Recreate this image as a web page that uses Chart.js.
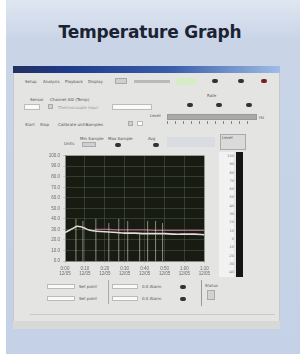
<!DOCTYPE html>
<html>
<head>
<meta charset="utf-8">
<script src="https://cdn.jsdelivr.net/npm/chart.js@4.4.0/dist/chart.umd.min.js"></script>
<style>
  html, body { margin: 0; padding: 0; }
  body { width: 300px; height: 354px; position: relative; overflow: hidden;
    background: #fff; font-family: "DejaVu Sans", sans-serif; }
  .abs { position: absolute; }
  #slide { left: 6px; top: 0; width: 294px; height: 354px;
    background: linear-gradient(180deg, #dfe6f1 0px, #c9d5e7 40px, #c4d1e6 354px); }
  #title { left: 0; top: 22px; width: 300px; text-align: center; font-weight: bold;
    font-size: 17px; color: #1b2232; letter-spacing: -0.2px; }
  #win { left: 13px; top: 66px; width: 267px; height: 263px; background: #e4e4e2;
    border: 1px solid #c8c8c8; box-sizing: border-box; filter: blur(0.45px); }
  #bar { left: 13px; top: 66px; width: 267px; height: 7px;
    background: linear-gradient(90deg, #24305e 0%, #1e3a8a 20%, #3b5ea8 60%, #9fbde6 100%); }
  .t { font-size: 4px; color: #555; white-space: nowrap; }
  .box { background: #fafafa; border: 1px solid #bbb; box-sizing: border-box; }
  .grey { background: #cfcfcf; border: 1px solid #aaa; box-sizing: border-box; }
  .knob { width: 6px; height: 4px; border-radius: 3px; background: #333; }
  #plot { left: 36px; top: 150px; width: 177px; height: 125px; }
  #meter { left: 236px; top: 152px; width: 7px; height: 125px; background: #151515; }
  #meterScale { left: 219px; top: 152px; width: 15px; height: 125px; background: #f2f2f2;
    font-size: 3.5px; color: #777; line-height: 8.3px; text-align: right; }
</style>
</head>
<body>
<div class="abs" id="slide"></div>
<div class="abs" id="title">Temperature Graph</div>

<div class="abs" id="win"></div>
<div class="abs" id="bar"></div>

<!-- menu row -->
<div class="abs t" style="left:25px;top:79px">Setup</div>
<div class="abs t" style="left:43px;top:79px">Analysis</div>
<div class="abs t" style="left:65px;top:79px">Playback</div>
<div class="abs t" style="left:88px;top:79px">Display</div>
<div class="abs grey" style="left:115px;top:78px;width:12px;height:6px"></div>
<div class="abs" style="left:134px;top:80px;width:36px;height:3px;background:#b9b9b9"></div>
<div class="abs" style="left:176px;top:78px;width:20px;height:7px;background:#d6ecc4;border-radius:3px"></div>
<div class="abs knob" style="left:212px;top:79px"></div>
<div class="abs knob" style="left:238px;top:79px"></div>
<div class="abs knob" style="left:261px;top:79px;background:#7a1f1f"></div>

<!-- sensor row -->
<div class="abs t" style="left:30px;top:97px">Sensor</div>
<div class="abs t" style="left:50px;top:97px">Channel AI0 (Temp)</div>
<div class="abs box" style="left:24px;top:104px;width:16px;height:6px"></div>
<div class="abs grey" style="left:48px;top:104px;width:5px;height:5px"></div>
<div class="abs t" style="left:58px;top:105px;color:#999">Thermocouple input</div>
<div class="abs box" style="left:112px;top:104px;width:40px;height:6px"></div>
<div class="abs t" style="left:207px;top:93px">Rate</div>
<div class="abs knob" style="left:187px;top:103px"></div>
<div class="abs knob" style="left:216px;top:103px"></div>
<div class="abs knob" style="left:246px;top:103px"></div>

<!-- controls row -->
<div class="abs t" style="left:25px;top:122px">Start</div>
<div class="abs t" style="left:40px;top:122px">Stop</div>
<div class="abs t" style="left:58px;top:122px">Calibrate units</div>
<div class="abs t" style="left:86px;top:122px">Samples</div>
<div class="abs grey" style="left:128px;top:121px;width:5px;height:5px"></div>
<div class="abs box" style="left:137px;top:121px;width:6px;height:5px"></div>
<div class="abs t" style="left:150px;top:113px">Level</div>
<div class="abs" style="left:167px;top:114px;width:88px;height:4px;background:#a9a9a9;border:1px solid #999"></div>
<div class="abs" style="left:167px;top:121px;width:88px;height:3px;
  background:repeating-linear-gradient(90deg,#888 0 1px,transparent 1px 8px)"></div>
<div class="abs t" style="left:259px;top:115px">Hz</div>

<!-- display row -->
<div class="abs t" style="left:64px;top:141px">Units</div>
<div class="abs t" style="left:80px;top:136px">Min Sample</div>
<div class="abs grey" style="left:82px;top:142px;width:14px;height:5px"></div>
<div class="abs t" style="left:108px;top:136px">Max Sample</div>
<div class="abs knob" style="left:115px;top:143px"></div>
<div class="abs t" style="left:148px;top:136px">Avg</div>
<div class="abs knob" style="left:153px;top:143px"></div>
<div class="abs" style="left:167px;top:137px;width:48px;height:10px;background:#d9dde3"></div>
<div class="abs grey" style="left:220px;top:134px;width:26px;height:16px;background:#dadada"></div>
<div class="abs t" style="left:222px;top:135px">Level</div>

<!-- graph -->
<div class="abs" id="plot"><canvas id="chart"></canvas></div>

<!-- right meter -->
<div class="abs" id="meterScale">100<br>90<br>80<br>70<br>60<br>50<br>40<br>30<br>20<br>10<br>0<br>-10<br>-20<br>-30<br>-40</div>
<div class="abs" id="meter"></div>

<!-- bottom fields -->
<div class="abs box" style="left:47px;top:284px;width:28px;height:5px"></div>
<div class="abs box" style="left:47px;top:296px;width:28px;height:5px"></div>
<div class="abs t" style="left:79px;top:284px">Set point</div>
<div class="abs t" style="left:79px;top:296px">Set point</div>
<div class="abs" style="left:108px;top:280px;width:1px;height:24px;background:#aaa"></div>
<div class="abs box" style="left:112px;top:284px;width:26px;height:5px"></div>
<div class="abs box" style="left:112px;top:296px;width:26px;height:5px"></div>
<div class="abs t" style="left:142px;top:284px">0.0 Alarm</div>
<div class="abs t" style="left:142px;top:296px">0.0 Alarm</div>
<div class="abs knob" style="left:180px;top:285px"></div>
<div class="abs knob" style="left:180px;top:297px"></div>
<div class="abs" style="left:201px;top:280px;width:1px;height:26px;background:#999"></div>
<div class="abs t" style="left:205px;top:283px">Status</div>
<div class="abs grey" style="left:207px;top:290px;width:8px;height:10px;background:#d2d2d2"></div>
<div class="abs" style="left:30px;top:314px;width:245px;height:1px;background:#c9c9c9"></div>
<div class="abs" style="left:13px;top:321px;width:267px;height:8px;background:#d8d8d6"></div>

<script>
// time axis (s) and readings
const times = [0, 2, 4, 6, 8, 10, 12, 15, 18, 22, 26, 30, 35, 40, 45, 50, 55, 60, 65, 70];
const tempActual = [27, 29, 31, 33, 32.5, 31, 29.5, 28.5, 28, 27.5, 27, 26.5, 26.5, 26, 26, 26, 25.5, 25.5, 25.5, 25];
const tempSet = [null, null, null, null, null, null, null, 30, 30, 30, 29.5, 29.5, 29.5, 29.5, 29, 29, 29, 29, 29, 29];
// event markers: time and height of each vertical mark
const markerTimes = [5.5, 9, 15.5, 22, 27, 31.5, 37.5, 41.5, 45.5, 49];
const markerLevel = [40, 38, 40, 36, 40, 38, 26, 38, 38, 36];
const yTicks = ['0.0', '10.0', '20.0', '30.0', '40.0', '50.0', '60.0', '70.0', '80.0', '90.0', '100.0'];
const xTicks = ['0:00', '0:10', '0:20', '0:30', '0:40', '0:50', '1:00', '1:10'];

const markerPts = [];
markerTimes.forEach((t, i) => {
  markerPts.push({ x: t, y: 0 }, { x: t, y: markerLevel[i] }, { x: t, y: null });
});

const plotBg = {
  id: 'plotBg',
  beforeDraw(chart) {
    const { ctx, chartArea: a } = chart;
    ctx.save();
    ctx.fillStyle = '#171b12';
    ctx.fillRect(a.left, a.top, a.right - a.left, a.bottom - a.top);
    ctx.restore();
  }
};

const ctx = document.getElementById('chart').getContext('2d');
new Chart(ctx, {
  type: 'line',
  data: {
    datasets: [
      { label: 'Markers', data: markerPts, spanGaps: false,
        borderColor: 'rgba(215,215,205,0.6)', borderWidth: 1, pointRadius: 0 },
      { label: 'Set point', data: times.map((t, i) => ({ x: t, y: tempSet[i] })),
        borderColor: '#a86a86', borderWidth: 1.2, pointRadius: 0, spanGaps: false },
      { label: 'Temperature', data: times.map((t, i) => ({ x: t, y: tempActual[i] })),
        borderColor: '#e4ddd6', borderWidth: 1.6, pointRadius: 0, tension: 0.3 }
    ]
  },
  options: {
    responsive: true,
    maintainAspectRatio: false,
    animation: false,
    layout: { padding: { top: 5, right: 6, left: 0, bottom: 0 } },
    plugins: { legend: { display: false }, tooltip: { enabled: false } },
    scales: {
      x: {
        type: 'linear', min: 0, max: 70,
        afterFit(s) { s.height = 14; },
        ticks: { stepSize: 10, color: '#6a6a6a', font: { size: 4.5 }, maxRotation: 0,
          callback: (v, i) => [xTicks[i], '12/05'] },
        grid: { color: 'rgba(120,140,105,0.5)', lineWidth: 0.6, tickLength: 2 },
        border: { color: '#888' }
      },
      y: {
        min: 0, max: 100,
        afterFit(s) { s.width = 29; },
        ticks: { stepSize: 10, color: '#6a6a6a', font: { size: 4.5 },
          callback: (v, i) => yTicks[i] },
        grid: { color: 'rgba(120,140,105,0.5)', lineWidth: 0.6, tickLength: 2 },
        border: { color: '#888' }
      }
    }
  },
  plugins: [plotBg]
});
</script>
</body>
</html>
